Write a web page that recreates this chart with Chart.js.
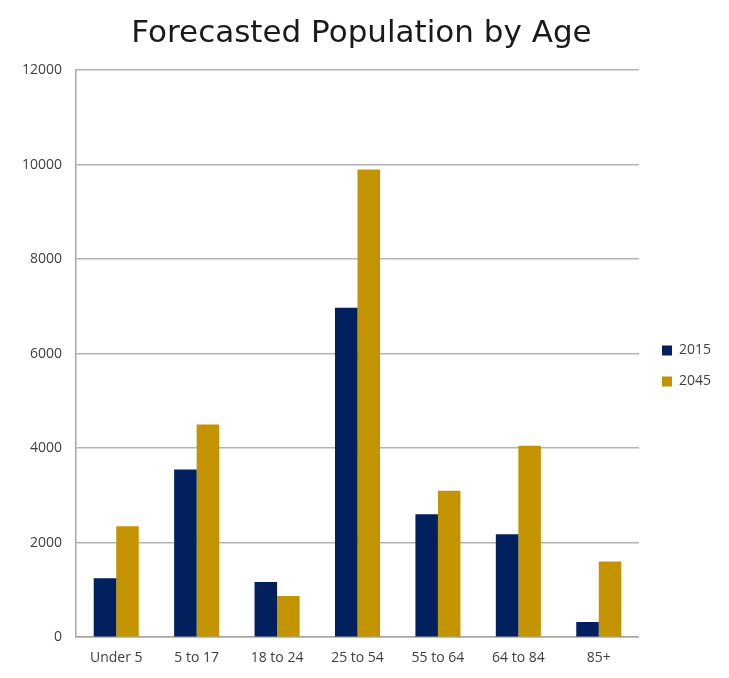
<!DOCTYPE html>
<html>
<head>
<meta charset="utf-8">
<title>Forecasted Population by Age</title>
<script src="https://cdn.jsdelivr.net/npm/chart.js@4"></script>
<style>
    html, body { margin: 0; padding: 0; background: #fff; }
    #wrap { width: 729px; height: 678px; position: relative; }
</style>
</head>
<body>
<div id="wrap"><canvas id="popChart"></canvas></div>
<script>
const ageGroups = ['Under 5', '5 to 17', '18 to 24', '25 to 54', '55 to 64', '64 to 84', '85+'];
const pop2015 = [1250, 3550, 1170, 6970, 2600, 2180, 320];
const pop2045 = [2350, 4500, 870, 9900, 3100, 4050, 1600];
const yTicks = [0, 2000, 4000, 6000, 8000, 10000, 12000];

const ctx = document.getElementById('popChart').getContext('2d');

// nudge the legend a little to the right, like the original
const legendNudge = {
    id: 'legendNudge',
    afterLayout(chart) {
        if (chart.legend) {
            chart.legend.left += 6;
            chart.legend.right += 6;
        }
    }
};

new Chart(ctx, {
    type: 'bar',
    data: {
        labels: ageGroups,
        datasets: [{
            label: '2015',
            data: pop2015,
            backgroundColor: '#03205e'
        }, {
            label: '2045',
            data: pop2045,
            backgroundColor: '#c39400'
        }]
    },
    options: {
        responsive: true,
        maintainAspectRatio: false,
        animation: false,
        datasets: {
            bar: {
                barPercentage: 1.0,
                categoryPercentage: 0.56
            }
        },
        layout: {
            padding: { left: 8, right: 14, top: 0, bottom: 0 }
        },
        scales: {
            x: {
                grid: { display: false, drawTicks: false },
                border: { color: '#a6a6a6', width: 1.5 },
                ticks: {
                    color: '#404040',
                    padding: 12,
                    font: { family: 'Open Sans', size: 14 }
                }
            },
            y: {
                min: 0,
                max: 12000,
                afterBuildTicks: axis => {
                    axis.ticks = yTicks.map(v => ({ value: v }));
                },
                grid: {
                    color: '#b3b3b3',
                    lineWidth: 1.5,
                    drawTicks: false
                },
                border: { color: '#a6a6a6', width: 1.5 },
                ticks: {
                    color: '#404040',
                    padding: 14,
                    font: { family: 'Open Sans', size: 14 },
                    callback: value => String(value)
                }
            }
        },
        plugins: {
            title: {
                display: true,
                text: 'Forecasted Population by Age',
                color: '#1a1a1a',
                font: { family: 'DejaVu Sans', size: 31, weight: 'normal' },
                padding: { top: 15, bottom: 18 }
            },
            legend: {
                position: 'right',
                title: {
                    display: true,
                    text: ' ',
                    font: { size: 10 },
                    padding: { top: 42, bottom: 0 }
                },
                labels: {
                    boxWidth: 10,
                    boxHeight: 10,
                    padding: 17,
                    color: '#404040',
                    font: { family: 'Open Sans', size: 14 }
                }
            },
            tooltip: { enabled: false }
        }
    },
    plugins: [legendNudge]
});
</script>
</body>
</html>
